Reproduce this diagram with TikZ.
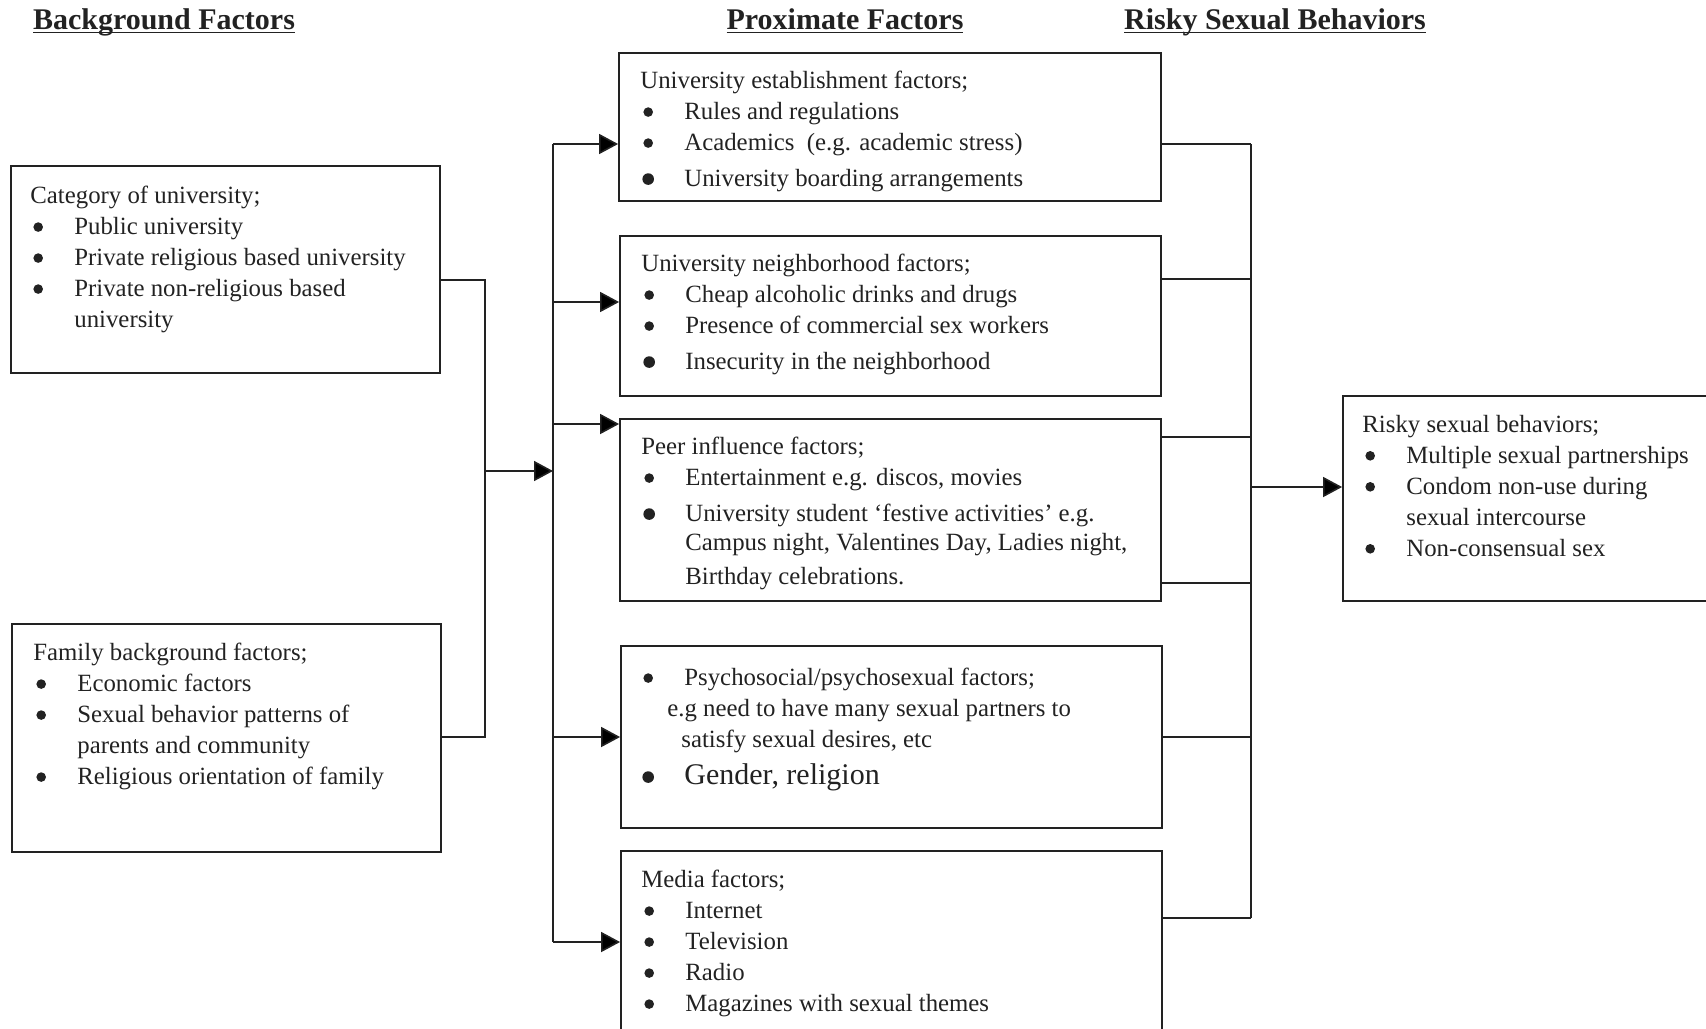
\documentclass[tikz,border=0pt]{standalone}
\usepackage{fontspec}
\setmainfont{Liberation Serif}
\usetikzlibrary{arrows.meta,fit}
\definecolor{ink}{HTML}{222222}
% bullet dot and hanging indent for the box lists
\newcommand{\dotb}[1]{\tikz[baseline=0pt]\fill[ink] (0pt,3.9pt) circle (#1);}
\newcommand{\bl}{\hspace*{1.5pt}\makebox[20.5pt][l]{\dotb{2.4pt}}}
\newcommand{\blb}{\hspace*{1pt}\makebox[21pt][l]{\dotb{2.9pt}}}
\newcommand{\cn}{\hspace*{22pt}}
% underlined column title
\newlength{\hdw}
\newcommand{\hd}[1]{\settowidth{\hdw}{#1}#1\llap{\rule[-2.2pt]{\hdw}{0.7pt}}}
\tikzset{
    fbox/.style={draw=ink, line width=0.9pt, inner sep=0pt},
    btext/.style={anchor=north west, inner sep=0pt, align=left, text=ink,
        font=\fontsize{12.4}{15.5}\selectfont},
    head/.style={anchor=base, text=ink, inner sep=0pt, font=\fontsize{15}{18}\selectfont\bfseries},
    line/.style={draw=ink, line width=0.8pt},
    arr/.style={line, -{Triangle[length=9.5pt,width=10pt]}}
}
\begin{document}
\begin{tikzpicture}[x=0.5pt, y=-0.5pt]
    \useasboundingbox (0,0) rectangle (1706,1028);
    % column titles
    \node[head] (hback) at (164,29) {\hd{Background Factors}};
    \node[head] (hprox) at (845,29) {\hd{Proximate Factors}};
    \node[head] (hrisk) at (1275,29) {\hd{Risky Sexual Behaviors}};
    % background boxes
    \node[fbox, fit={(11,166) (440,373)}] (cat) {};
    \node[btext] (cattxt) at (30,186) {Category of university;\\
        \bl Public university\\
        \bl Private religious based university\\
        \bl Private non-religious based\\
        \cn university};
    \node[fbox, fit={(12,624) (441,852)}] (fam) {};
    \node[btext] (famtxt) at (33,643) {Family background factors;\\
        \bl Economic factors\\
        \bl Sexual behavior patterns of\\
        \cn parents and community\\
        \bl Religious orientation of family};
    % proximate boxes
    \node[fbox, fit={(619,53) (1161,201)}] (estab) {};
    \node[btext] (estabtxt) at (640,71) {University establishment factors;\\
        \bl Rules and regulations\\
        \bl Academics\ \ (e.g. academic stress)\\[2.5pt]
        \blb University boarding arrangements};
    \node[fbox, fit={(620,236) (1161,396)}] (neigh) {};
    \node[btext] (neightxt) at (641,254) {University neighborhood factors;\\
        \bl Cheap alcoholic drinks and drugs\\
        \bl Presence of commercial sex workers\\[2.5pt]
        \blb Insecurity in the neighborhood};
    \node[fbox, fit={(620,419) (1161,601)}] (peer) {};
    \node[btext] (peertxt) at (641,437) {Peer influence factors;\\
        \bl Entertainment e.g. discos, movies\\[2.5pt]
        \blb University student ‘festive activities’ e.g.\\[-1pt]
        \cn Campus night, Valentines Day, Ladies night,\\[1.5pt]
        \cn Birthday celebrations.};
    \node[fbox, fit={(621,646) (1162,828)}] (psy) {};
    \node[btext] (psytxt) at (640,668) {\bl Psychosocial/psychosexual factors;\\
        \hspace*{13.5pt}e.g need to have many sexual partners to\\
        \hspace*{20.5pt}satisfy sexual desires, etc\\[3pt]
        \blb{\fontsize{15}{18}\selectfont Gender, religion}};
    \node[fbox, fit={(621,851) (1162,1040)}] (media) {};
    \node[btext] (mediatxt) at (641,870) {Media factors;\\
        \bl Internet\\
        \bl Television\\
        \bl Radio\\
        \bl Magazines with sexual themes};
    % outcome box
    \node[fbox, fit={(1343,396) (1720,601)}] (risky) {};
    \node[btext] (riskytxt) at (1362,415) {Risky sexual behaviors;\\
        \bl Multiple sexual partnerships\\
        \bl Condom non-use during\\
        \cn sexual intercourse\\
        \bl Non-consensual sex};
    % junctions
    \coordinate (lj) at (485,471);
    \coordinate (mtop) at (553,144);
    \coordinate (mbot) at (553,942);
    \coordinate (rtop) at (1251,144);
    \coordinate (rbot) at (1251,918);
    % background -> proximate
    \draw[line] (cat.east |- 0,280) -| (lj);
    \draw[line] (fam.east |- 0,737) -| (lj);
    \draw[arr] (lj) -- (lj -| mtop);
    \draw[line] (mtop) -- (mbot);
    \draw[arr] (mtop) -- (mtop -| estab.west);
    \foreach \y/\b in {302/neigh, 424/peer, 737/psy, 942/media} {
        \draw[arr] (mtop |- 0,\y) -- (\b.west |- 0,\y);
    }
    % proximate -> risky
    \draw[line] (rtop) -- (rbot);
    \foreach \y/\b in {144/estab, 279/neigh, 437/peer, 583/peer, 737/psy, 918/media} {
        \draw[line] (\b.east |- 0,\y) -- (rtop |- 0,\y);
    }
    \draw[arr] (rtop |- 0,487) -- (risky.west |- 0,487);
\end{tikzpicture}
\end{document}
